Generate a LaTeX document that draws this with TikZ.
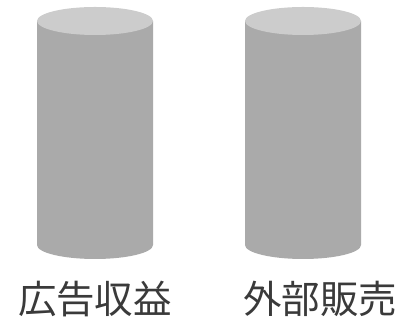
\documentclass[tikz,border=0pt]{standalone}
\usepackage{fontspec}
\newfontfamily\cjk{Noto Sans CJK JP}
\definecolor{cyltop}{HTML}{CCCCCC}
\definecolor{cylbody}{HTML}{AAAAAA}
\definecolor{labeltext}{HTML}{3A3A3A}
\begin{document}
\begin{tikzpicture}[x=1pt,y=1pt,
  lbl/.style={font=\cjk\fontsize{38.5}{40}\selectfont, text=labeltext, inner sep=0pt, anchor=center}]
\useasboundingbox (0,0) rectangle (410,320);
% left cylinder
\fill[cylbody] (37,299) -- (37,75) arc[start angle=180,end angle=360,x radius=58,y radius=14] -- (153,299) -- cycle;
\fill[cyltop] (95,299) ellipse[x radius=58,y radius=14];
% right cylinder
\fill[cylbody] (245,299) -- (245,75) arc[start angle=180,end angle=360,x radius=58,y radius=14] -- (361,299) -- cycle;
\fill[cyltop] (303,299) ellipse[x radius=58,y radius=14];
\node[lbl] (l1) at (95,21) {広告収益};
\node[lbl] (l2) at (320,21) {外部販売};
\end{tikzpicture}
\end{document}
